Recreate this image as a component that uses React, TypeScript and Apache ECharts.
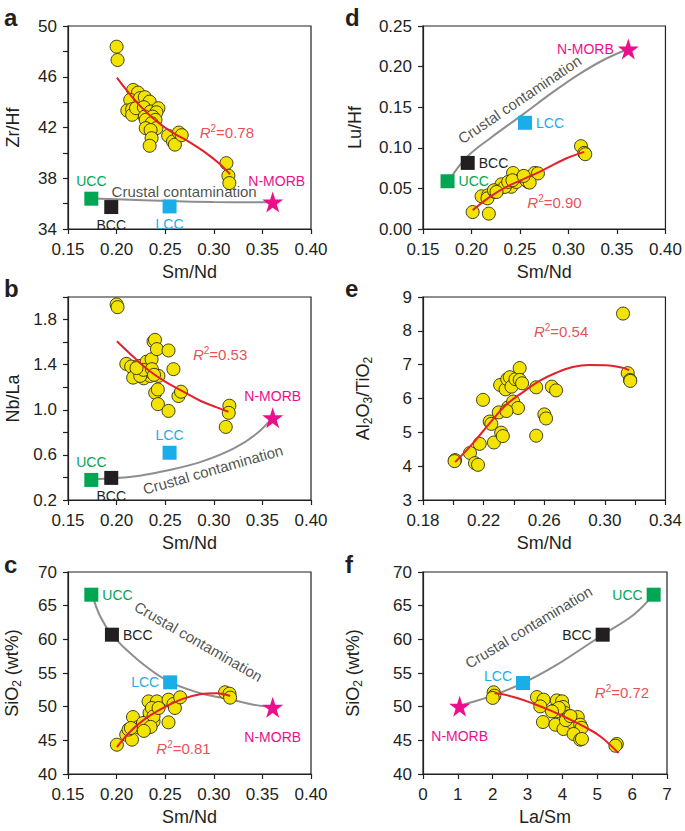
import React, { useEffect, useRef } from 'react';
import * as echarts from 'echarts';

const FONT = '"Liberation Sans", Arial, Helvetica, sans-serif';
const INK = '#231f20';
const YELLOW = '#f3e300';
const RED = '#e4202a';
const GRAY = '#8e8e8e';

const endMemberNames = ['UCC', 'BCC', 'LCC', 'N-MORB'];
const endMemberColors = ['#00a651', '#231f20', '#1aaee8', '#ec0f8c'];
const r2Values = ['0.78', '0.53', '0.81', '0.90', '0.54', '0.72'];

// ---- panel a : Sm/Nd vs Zr/Hf
const aSamples = [
  [0.200, 48.37], [0.201, 47.32], [0.217, 44.96], [0.222, 44.75], [0.214, 44.18], [0.224, 44.31],
  [0.229, 44.39], [0.234, 44.04], [0.211, 43.34], [0.216, 43.44], [0.216, 43.0], [0.220, 43.52],
  [0.228, 43.6], [0.235, 43.26], [0.243, 43.52], [0.241, 43.2], [0.229, 42.86], [0.237, 42.86],
  [0.240, 42.6], [0.230, 42.6], [0.236, 42.34], [0.230, 41.95], [0.241, 41.95], [0.235, 41.8],
  [0.236, 41.16], [0.234, 40.56], [0.253, 41.35], [0.258, 40.9], [0.260, 40.65], [0.264, 41.6],
  [0.267, 41.4], [0.313, 39.19], [0.315, 38.2], [0.316, 37.62],
];
const aFit = [[0.2003, 45.93], [0.215, 44.5], [0.23, 43.25], [0.245, 42.25], [0.26, 41.5], [0.275, 40.85], [0.29, 40.1], [0.305, 39.2], [0.3168, 38.3]];
const aMixing = [[0.175, 36.4], [0.2, 36.34], [0.255, 36.2], [0.3, 36.13], [0.36, 36.1]];
const aEnd = [[0.174, 36.39], [0.1945, 35.73], [0.2545, 35.78], [0.3606, 36.12]];

// ---- panel b : Sm/Nd vs Nb/La
const bSamples = [
  [0.200, 1.934], [0.201, 1.91], [0.210, 1.407], [0.215, 1.383], [0.2226, 1.389], [0.231, 1.427],
  [0.236, 1.448], [0.217, 1.285], [0.228, 1.279], [0.2346, 1.30], [0.243, 1.30], [0.229, 1.34],
  [0.238, 1.606], [0.2395, 1.62], [0.2415, 1.538], [0.2534, 1.526], [0.2585, 1.36], [0.2397, 1.151],
  [0.2424, 1.18], [0.2425, 1.05], [0.2534, 0.99], [0.2637, 1.122], [0.2663, 1.16], [0.316, 1.036],
  [0.3154, 0.973], [0.3123, 0.848], [0.2243, 1.30], [0.2277, 1.354], [0.2363, 1.36], [0.2385, 1.31],
  [0.2205, 1.37],
];
const bFit = [[0.2003, 1.607], [0.2175, 1.467], [0.2346, 1.339], [0.2517, 1.241], [0.2688, 1.16], [0.286, 1.08], [0.3031, 1.021], [0.315, 0.982]];
const bMixing = [[0.175, 0.385], [0.2175, 0.408], [0.2517, 0.462], [0.286, 0.536], [0.3202, 0.655], [0.3442, 0.789], [0.3596, 0.923]];
const bEnd = [[0.174, 0.378], [0.1945, 0.396], [0.2545, 0.619], [0.3606, 0.929]];

// ---- panel c : Sm/Nd vs SiO2
const cSamples = [
  [0.2003, 44.35], [0.2099, 45.84], [0.2158, 45.1], [0.2168, 48.46], [0.2123, 46.6], [0.2226, 47.0],
  [0.2267, 46.6], [0.2294, 47.57], [0.2346, 48.8], [0.2329, 50.78], [0.2415, 50.78], [0.2397, 49.55],
  [0.238, 47.8], [0.2534, 47.67], [0.2534, 51.04], [0.2585, 50.4], [0.26, 49.8], [0.2654, 51.39],
  [0.2243, 46.83], [0.2312, 46.83], [0.2339, 49.06], [0.2363, 49.8], [0.238, 48.56], [0.2432, 49.8],
  [0.2271, 47.57], [0.2147, 46.83], [0.3116, 52.13], [0.3161, 51.93], [0.3168, 51.34], [0.235, 47.0],
  [0.228, 46.4],
];
const cFit = [[0.2003, 44.0], [0.2175, 46.78], [0.2346, 48.71], [0.2517, 50.1], [0.2688, 51.19], [0.286, 51.83], [0.3031, 51.98], [0.3168, 51.58]];
const cMixing = [[0.175, 66.6], [0.1832, 63.4], [0.1952, 60.69], [0.2175, 57.48], [0.2517, 53.9], [0.286, 52.0], [0.3134, 51.2], [0.3408, 50.3], [0.3596, 49.95]];
const cEnd = [[0.174, 66.63], [0.1952, 60.69], [0.2551, 53.61], [0.3606, 49.9]];

// ---- panel d : Sm/Nd vs Lu/Hf
const dSamples = [
  [0.2012, 0.0209], [0.2179, 0.0189], [0.2104, 0.0403], [0.2172, 0.0416], [0.2165, 0.0378], [0.2241, 0.0457],
  [0.2275, 0.0486], [0.232, 0.0518], [0.2361, 0.0559], [0.2394, 0.0579], [0.2429, 0.069], [0.241, 0.052],
  [0.2463, 0.0579], [0.253, 0.064], [0.2582, 0.0579], [0.2651, 0.069], [0.2685, 0.0685], [0.2309, 0.055],
  [0.2344, 0.0518], [0.2378, 0.058], [0.2422, 0.06], [0.2566, 0.06], [0.26, 0.0572], [0.2231, 0.0477],
  [0.2258, 0.0456], [0.3129, 0.102], [0.3163, 0.0938], [0.3173, 0.0921], [0.2538, 0.0654],
];
const dFit = [[0.2012, 0.023], [0.219, 0.0395], [0.236, 0.0518], [0.2702, 0.0703], [0.2975, 0.0868], [0.3163, 0.095]];
const dMixing = [[0.1807, 0.067], [0.1968, 0.0905], [0.219, 0.1115], [0.2531, 0.1412], [0.2839, 0.1685], [0.3095, 0.1895], [0.3351, 0.2075], [0.359, 0.2204]];
const dEnd = [[0.1753, 0.0588], [0.1961, 0.0814], [0.2552, 0.1308], [0.3617, 0.2216]];

// ---- panel e : Sm/Nd vs Al2O3/TiO2
const eSamples = [
  [0.2012, 4.18], [0.2008, 4.15], [0.2110, 4.39], [0.2143, 4.09], [0.2163, 4.04], [0.2174, 4.66],
  [0.2196, 5.96], [0.2240, 5.32], [0.2251, 5.25], [0.2268, 4.70], [0.2309, 6.40], [0.2300, 5.59],
  [0.2316, 4.99], [0.2327, 4.89], [0.2345, 6.27], [0.2356, 6.57], [0.2373, 6.63], [0.2384, 6.35],
  [0.2362, 5.74], [0.2395, 5.91], [0.2427, 5.72], [0.2410, 6.57], [0.2438, 6.90], [0.2438, 6.55],
  [0.2454, 6.45], [0.2547, 6.33], [0.2547, 4.90], [0.2601, 5.53], [0.2612, 5.41], [0.2650, 6.35],
  [0.2678, 6.24], [0.312, 8.51], [0.3151, 6.75], [0.3166, 6.55], [0.3168, 6.52], [0.2351, 5.63],
];
const eFit = [[0.2012, 4.12], [0.2132, 4.69], [0.2242, 5.28], [0.2351, 5.82], [0.246, 6.19], [0.2569, 6.52], [0.2679, 6.76], [0.2788, 6.93], [0.2897, 6.99], [0.3006, 6.98], [0.3116, 6.91], [0.316, 6.84]];

// ---- panel f : La/Sm vs SiO2
const fSamples = [
  [2.027, 52.13], [2.046, 51.63], [2.0, 51.3], [3.27, 51.43], [3.46, 51.04], [3.365, 50.04],
  [3.44, 47.72], [3.84, 50.93], [3.99, 50.79], [4.02, 49.95], [3.75, 49.4], [3.84, 49.3],
  [4.08, 49.06], [4.18, 48.55], [3.80, 47.32], [4.03, 46.68], [4.27, 47.67], [4.44, 48.46],
  [4.51, 47.32], [4.55, 46.85], [4.32, 45.94], [4.51, 45.1], [4.56, 45.2], [5.56, 44.46],
  [5.52, 44.2], [3.9, 49.8], [4.1, 48.0], [4.23, 48.6], [3.7, 49.3],
];
const fFit = [[2.05, 52.0], [2.217, 51.93], [2.70, 51.29], [3.17, 50.44], [3.65, 49.45], [4.13, 48.32], [4.61, 47.07], [5.09, 45.58], [5.61, 43.1]];
const fMixing = [[1.052, 50.05], [1.167, 50.3], [1.932, 51.53], [2.869, 53.5], [3.844, 56.24], [4.8, 59.46], [5.155, 60.69], [6.044, 63.66], [6.617, 66.63]];
const fEnd = [[6.617, 66.63], [5.155, 60.69], [2.869, 53.51], [1.052, 50.05]];

const STAR = 'path://M50,0 L61.8,35.1 L98.9,35.1 L68.8,57.1 L80.3,92.7 L50,70.8 L19.7,92.7 L31.2,57.1 L1.1,35.1 L38.2,35.1 Z';

const baseText = { fontFamily: FONT, color: INK };
const TICK_FS = 17;
const NAME_FS = 18;

function xAxis(gridIndex: number, min: number, max: number, interval: number, name: string, fmt: (v: number) => string) {
  return {
    type: 'value', gridIndex, min, max, interval, name,
    nameLocation: 'middle', nameGap: 34,
    nameTextStyle: { ...baseText, fontSize: NAME_FS },
    axisLine: { show: true, onZero: false, lineStyle: { color: INK, width: 1.2 } },
    axisTick: { show: true, inside: false, length: 5, lineStyle: { color: INK, width: 1.2 } },
    axisLabel: { ...baseText, fontSize: TICK_FS, margin: 12, formatter: fmt },
    splitLine: { show: false },
  };
}

function yAxis(gridIndex: number, min: number, max: number, interval: number, name: string, nameGap: number, fmt: (v: number) => string, rich?: any) {
  return {
    type: 'value', gridIndex, min, max, interval, name,
    nameLocation: 'middle', nameGap,
    nameTextStyle: { ...baseText, fontSize: NAME_FS, rich },
    axisLine: { show: true, onZero: false, lineStyle: { color: INK, width: 1.2 } },
    axisTick: { show: true, inside: false, length: 5, lineStyle: { color: INK, width: 1.2 } },
    axisLabel: { ...baseText, fontSize: TICK_FS, margin: 11, formatter: fmt },
    splitLine: { show: false },
  };
}

const subRich = {
  n: { fontFamily: FONT, color: INK, fontSize: NAME_FS, lineHeight: 22 },
  s: { fontFamily: FONT, color: INK, fontSize: 12, verticalAlign: 'bottom' },
};

function samplesSeries(i: number, data: number[][]) {
  return {
    type: 'scatter', xAxisIndex: i, yAxisIndex: i, data, z: 3,
    symbol: 'circle', symbolSize: 13,
    itemStyle: { color: YELLOW, borderColor: '#2b2b1a', borderWidth: 0.9, opacity: 1 },
  };
}

function lineSeries(i: number, data: number[][], color: string, z: number) {
  return {
    type: 'line', xAxisIndex: i, yAxisIndex: i, data, z,
    smooth: 0.4, symbol: 'none', lineStyle: { color, width: 2 },
  };
}

type LP = { pos: any; off?: number[] };

function endSeries(i: number, pts: number[][], lp: LP[]) {
  return {
    type: 'scatter', xAxisIndex: i, yAxisIndex: i, z: 5,
    data: pts.map((p, k) => ({
      value: p,
      symbol: k === 3 ? STAR : 'rect',
      symbolSize: k === 3 ? 21 : 14,
      itemStyle: { color: endMemberColors[k], opacity: 1 },
      label: {
        show: true, position: lp[k].pos, offset: lp[k].off || [0, 0], distance: 4,
        formatter: endMemberNames[k], color: endMemberColors[k], fontFamily: FONT, fontSize: 14,
      },
    })),
  };
}

function textSeries(i: number, at: number[], text: string, color: string, rotate: number, rich?: any) {
  return {
    type: 'scatter', xAxisIndex: i, yAxisIndex: i, z: 6, silent: true,
    symbolSize: 0,
    data: [{ value: at }],
    label: {
      show: true, position: 'inside', formatter: text, color, rotate,
      fontFamily: FONT, fontSize: 15, rich,
    },
  };
}

const r2Rich = {
  i: { fontFamily: FONT, color: RED, fontSize: 15, fontStyle: 'italic', lineHeight: 18 },
  s: { fontFamily: FONT, color: RED, fontSize: 10, verticalAlign: 'top' },
  n: { fontFamily: FONT, color: RED, fontSize: 15, lineHeight: 18 },
};
const r2 = (k: number) => `{i|R}{s|2}{n|=${r2Values[k]}}`;

const f2 = (v: number) => v.toFixed(2);
const f0 = (v: number) => String(Math.round(v));

export default function App() {
  const ref = useRef<HTMLDivElement>(null);
  useEffect(() => {
    const chart = echarts.init(ref.current!, undefined, { renderer: 'svg' });
    const grids = [
      { left: 68, top: 26, width: 243, height: 203 },
      { left: 68, top: 297, width: 243, height: 203 },
      { left: 68, top: 572, width: 243, height: 202 },
      { left: 423, top: 26, width: 244, height: 203 },
      { left: 423, top: 297, width: 244, height: 203 },
      { left: 423, top: 572, width: 244, height: 202 },
    ].map((g) => ({ ...g, show: true, borderColor: INK, borderWidth: 1.2, backgroundColor: 'transparent' }));

    const option: any = {
      animation: false,
      grid: grids,
      xAxis: [
        xAxis(0, 0.15, 0.40, 0.05, 'Sm/Nd', f2),
        xAxis(1, 0.15, 0.40, 0.05, 'Sm/Nd', f2),
        xAxis(2, 0.15, 0.40, 0.05, 'Sm/Nd', f2),
        xAxis(3, 0.15, 0.40, 0.05, 'Sm/Nd', f2),
        xAxis(4, 0.18, 0.34, 0.02, 'Sm/Nd', (v) => (Math.round(v * 100) % 4 === 2 ? v.toFixed(2) : '')),
        xAxis(5, 0, 7, 1, 'La/Sm', f0),
      ],
      yAxis: [
        yAxis(0, 34, 50, 2, 'Zr/Hf', 46, (v) => (Math.round(v) % 4 === 2 ? String(Math.round(v)) : '')),
        yAxis(1, 0.2, 2.0, 0.2, 'Nb/La', 46, (v) => (Math.round(v * 10) % 4 === 2 ? v.toFixed(1) : '')),
        yAxis(2, 40, 70, 5, '{n|SiO}{s|2}{n| (wt%)}', 45, f0, subRich),
        yAxis(3, 0, 0.25, 0.05, 'Lu/Hf', 59, f2),
        yAxis(4, 3, 9, 1, '{n|Al}{s|2}{n|O}{s|3}{n|/TiO}{s|2}', 49, f0, subRich),
        yAxis(5, 40, 70, 5, '{n|SiO}{s|2}{n| (wt%)}', 59, f0, subRich),
      ],
      graphic: [
        { type: 'text', left: 4, top: 5, style: { text: 'a', font: `bold 24px ${FONT}`, fill: INK } },
        { type: 'text', left: 4, top: 276, style: { text: 'b', font: `bold 24px ${FONT}`, fill: INK } },
        { type: 'text', left: 4, top: 552, style: { text: 'c', font: `bold 24px ${FONT}`, fill: INK } },
        { type: 'text', left: 345, top: 5, style: { text: 'd', font: `bold 24px ${FONT}`, fill: INK } },
        { type: 'text', left: 345, top: 276, style: { text: 'e', font: `bold 24px ${FONT}`, fill: INK } },
        { type: 'text', left: 345, top: 552, style: { text: 'f', font: `bold 24px ${FONT}`, fill: INK } },
      ],
      series: [
        // a
        lineSeries(0, aMixing, GRAY, 2),
        samplesSeries(0, aSamples),
        lineSeries(0, aFit, RED, 4),
        endSeries(0, aEnd, [{ pos: 'top' }, { pos: 'bottom' }, { pos: 'bottom' }, { pos: 'top', off: [4, 0] }]),
        textSeries(0, [0.2695, 36.93], 'Crustal contamination', INK, 0),
        textSeries(0, [0.3134, 41.6], r2(0), RED, 0, r2Rich),
        // b
        lineSeries(1, bMixing, GRAY, 2),
        samplesSeries(1, bSamples),
        lineSeries(1, bFit, RED, 4),
        endSeries(1, bEnd, [{ pos: 'top' }, { pos: 'bottom' }, { pos: 'top' }, { pos: 'top' }]),
        textSeries(1, [0.299, 0.47], 'Crustal contamination', INK, 16),
        textSeries(1, [0.3065, 1.494], r2(1), RED, 0, r2Rich),
        // c
        lineSeries(2, cMixing, GRAY, 2),
        samplesSeries(2, cSamples),
        lineSeries(2, cFit, RED, 4),
        endSeries(2, cEnd, [{ pos: 'right' }, { pos: 'right' }, { pos: 'left' }, { pos: 'bottom', off: [0, 8] }]),
        textSeries(2, [0.2842, 59.7], 'Crustal contamination', INK, -30),
        textSeries(2, [0.2688, 43.86], r2(2), RED, 0, r2Rich),
        // d
        lineSeries(3, dMixing, GRAY, 2),
        samplesSeries(3, dSamples),
        lineSeries(3, dFit, RED, 4),
        endSeries(3, dEnd, [{ pos: 'right' }, { pos: 'right' }, { pos: 'right' }, { pos: 'left' }]),
        textSeries(3, [0.2495, 0.1596], 'Crustal contamination', INK, 34),
        textSeries(3, [0.2856, 0.0321], r2(3), RED, 0, r2Rich),
        // e
        samplesSeries(4, eSamples),
        lineSeries(4, eFit, RED, 4),
        textSeries(4, [0.2711, 7.98], r2(4), RED, 0, r2Rich),
        // f
        lineSeries(5, fMixing, GRAY, 2),
        samplesSeries(5, fSamples),
        lineSeries(5, fFit, RED, 4),
        endSeries(5, fEnd, [{ pos: 'left' }, { pos: 'left' }, { pos: 'left', off: [0, -7] }, { pos: 'bottom', off: [0, 8] }]),
        textSeries(5, [3.03, 61.83], 'Crustal contamination', INK, 31),
        textSeries(5, [5.71, 52.03], r2(5), RED, 0, r2Rich),
      ],
    };
    chart.setOption(option);
    return () => chart.dispose();
  }, []);
  return <div ref={ref} style={{ position: 'absolute', left: 0, top: 0, width: 685, height: 831, background: '#fff' }} />;
}
